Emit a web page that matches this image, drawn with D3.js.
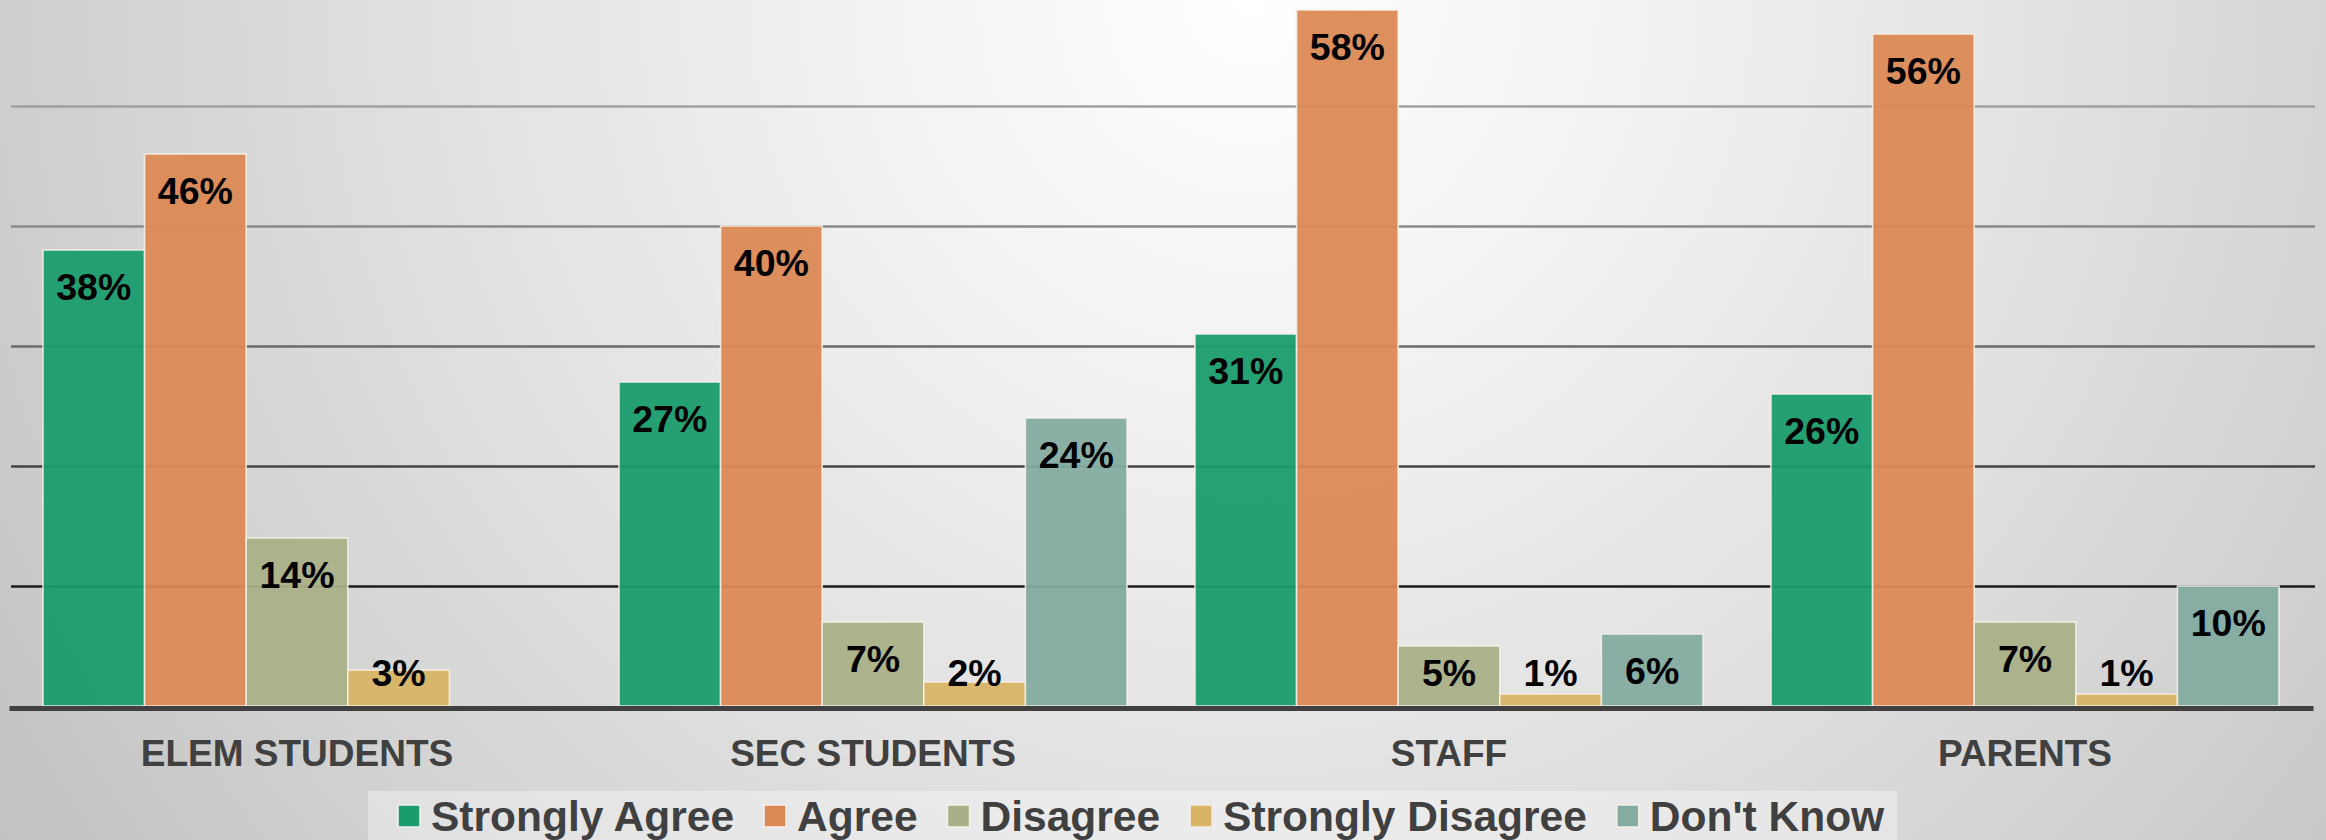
<!DOCTYPE html>
<html>
<head>
<meta charset="utf-8">
<script src="https://cdn.jsdelivr.net/npm/d3@7"></script>
<style>
  html, body { margin: 0; padding: 0; background: #e0e0e0; }
  svg { display: block; }
  text { font-family: "Liberation Sans", Arial, sans-serif; font-weight: bold; }
</style>
</head>
<body>
<svg id="chart" width="2326" height="840"></svg>
<script>
// ---- data ----
const categories = ["ELEM STUDENTS", "SEC STUDENTS", "STAFF", "PARENTS"];
const seriesNames = ["Strongly Agree", "Agree", "Disagree", "Strongly Disagree", "Don't Know"];
const stronglyAgree    = [38, 27, 31, 26];
const agree            = [46, 40, 58, 56];
const disagree         = [14, 7, 5, 7];
const stronglyDisagree = [3, 2, 1, 1];
const dontKnow         = [null, 24, 6, 10];
const gridTicks = [10, 20, 30, 40, 50];

const seriesValues = [stronglyAgree, agree, disagree, stronglyDisagree, dontKnow];
const colors = ["#1a9c6d", "#dc8955", "#a9b088", "#d8b466", "#84aca1"];
const gridColors = ["#1c1c1c", "#444444", "#6a6a6a", "#8a8a8a", "#a0a0a0"];

const W = 2326, H = 840;
const svg = d3.select("#chart");

// background
const defs = svg.append("defs");
const rg = defs.append("radialGradient").attr("id", "bg")
  .attr("gradientUnits", "userSpaceOnUse")
  .attr("cx", 1250).attr("cy", 0).attr("r", 1500);
rg.append("stop").attr("offset", 0).attr("stop-color", "#ffffff");
rg.append("stop").attr("offset", 0.35).attr("stop-color", "#ededed");
rg.append("stop").attr("offset", 0.7).attr("stop-color", "#d7d7d7");
rg.append("stop").attr("offset", 1).attr("stop-color", "#c2c2c2");
svg.append("rect").attr("width", W).attr("height", H).attr("fill", "url(#bg)");

// scales
const x0 = d3.scaleBand().domain(categories).range([9, 2313])
  .paddingInner(0.118).paddingOuter(0.059);
const x1 = d3.scaleBand().domain(seriesNames).range([0, x0.bandwidth()]).padding(0);
const y = d3.scaleLinear().domain([0, 60]).range([706, -14]);

// gridlines
const grid = svg.append("g").attr("transform", "translate(11,0)")
  .call(d3.axisLeft(y).tickValues(gridTicks).tickSize(-2304).tickFormat(""));
grid.select(".domain").remove();
grid.selectAll(".tick line")
  .attr("stroke", (d, i) => gridColors[i])
  .attr("stroke-width", 2.5);

// bars
const groups = svg.append("g").selectAll("g")
  .data(categories).join("g")
  .attr("transform", d => `translate(${x0(d)},0)`);

const barData = (c, ci) => seriesNames.map((s, si) => ({ s, si, v: seriesValues[si][ci] }))
  .filter(d => d.v != null);

groups.each(function(c, ci) {
  const g = d3.select(this);
  const data = barData(c, ci);
  g.selectAll("rect").data(data).join("rect")
    .attr("x", d => x1(d.s))
    .attr("y", d => y(d.v))
    .attr("width", x1.bandwidth())
    .attr("height", d => y(0) - y(d.v))
    .attr("fill", d => colors[d.si])
    .attr("fill-opacity", 0.95)
    .attr("stroke", "#f6f1ea")
    .attr("stroke-opacity", 0.85)
    .attr("stroke-width", 1.6);
  g.selectAll("text.val").data(data).join("text")
    .attr("class", "val")
    .attr("x", d => x1(d.s) + x1.bandwidth() / 2)
    .attr("y", d => Math.min(y(d.v) + 50, 686))
    .attr("text-anchor", "middle")
    .attr("font-size", 37.5)
    .attr("fill", "#000")
    .text(d => d.v + "%");
});

// x axis
const xAxis = svg.append("g").attr("transform", "translate(0,708)")
  .call(d3.axisBottom(x0).tickSize(0).tickSizeOuter(0));
xAxis.select(".domain").attr("stroke", "#404040").attr("stroke-width", 5);
xAxis.selectAll(".tick text")
  .attr("y", 58).attr("dy", 0)
  .attr("font-size", 37)
  .attr("font-family", "'Liberation Sans', Arial, sans-serif")
  .attr("font-weight", "bold")
  .attr("fill", "#404040");

// legend
const legend = svg.append("g");
const legBox = legend.append("rect");
const items = legend.selectAll("g").data(seriesNames).join("g");
items.append("rect")
  .attr("width", 22).attr("height", 22).attr("y", 805)
  .attr("fill", (d, i) => colors[i])
  .attr("stroke", "#f4f1ea").attr("stroke-width", 1.5);
items.append("text")
  .attr("x", 33).attr("y", 831)
  .attr("font-size", 42.5)
  .attr("fill", "#404040")
  .text(d => d);
let xpos = 398;
items.each(function() {
  const g = d3.select(this);
  g.attr("transform", `translate(${xpos},0)`);
  const tw = g.select("text").node().getComputedTextLength();
  xpos += 33 + tw + 30;
});
const legEnd = xpos - 30;
legBox.attr("x", 368).attr("y", 791)
  .attr("width", legEnd + 13 - 368).attr("height", 60)
  .attr("fill", "#ffffff").attr("fill-opacity", 0.35);
</script>
</body>
</html>
